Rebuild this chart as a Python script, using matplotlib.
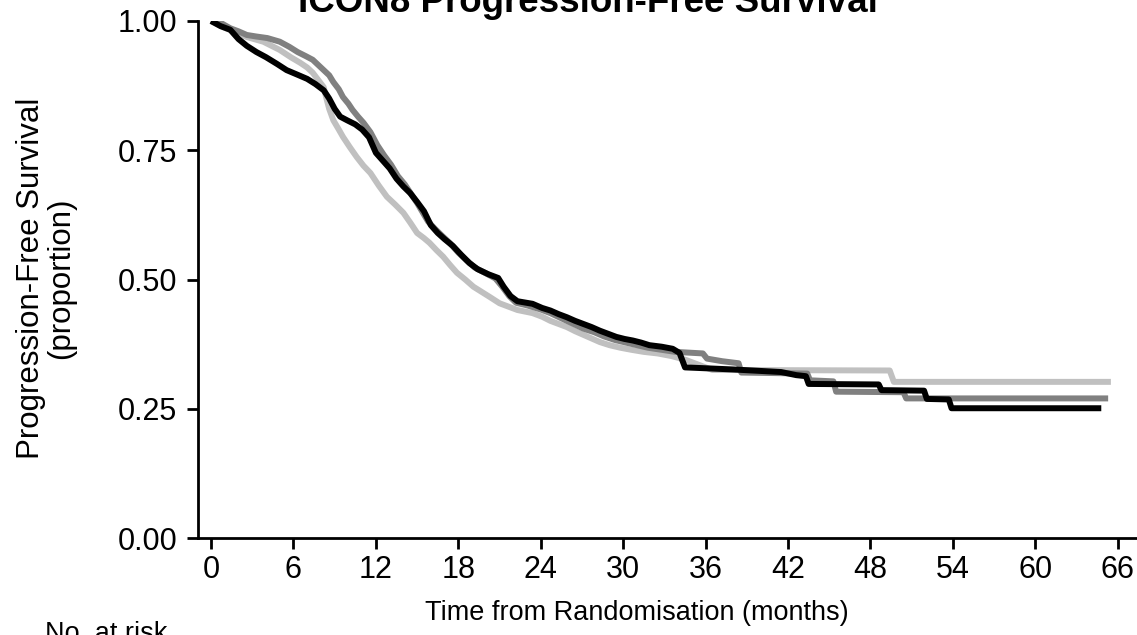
import matplotlib.pyplot as plt

plt.rcParams['font.family'] = ['Liberation Sans', 'DejaVu Sans']

# Kaplan-Meier estimates (months, proportion)
black_t = [0, 0.7, 1.4, 2.0, 2.6, 3.3, 4.0, 4.8, 5.5, 6.3, 7.0, 7.6, 8.2, 8.6, 9.0,
           9.4, 9.9, 10.5, 11.0, 11.5, 12.0, 12.5, 13.0, 13.5, 14.0, 14.5, 15.0,
           15.5, 16.0, 16.5, 17.0, 17.6, 18.2, 18.8, 19.4, 20.2, 20.9, 21.3, 21.8,
           22.3, 23.4, 24.1, 24.7, 25.3, 25.9, 26.5, 27.1, 27.7, 28.3, 28.9, 29.5,
           30.1, 30.7, 31.3, 31.9, 32.8, 33.6, 34.1, 34.5, 38.0, 41.5, 42.6, 43.3,
           43.5, 48.6, 48.8, 51.9, 52.1, 53.7, 53.9, 64.8]
black_s = [1.0, 0.99, 0.983, 0.965, 0.952, 0.94, 0.93, 0.917, 0.905, 0.896, 0.888,
           0.878, 0.866, 0.85, 0.83, 0.815, 0.808, 0.80, 0.79, 0.775, 0.745, 0.73,
           0.715, 0.695, 0.68, 0.667, 0.65, 0.632, 0.605, 0.59, 0.578, 0.565, 0.548,
           0.532, 0.52, 0.51, 0.503, 0.486, 0.468, 0.458, 0.453, 0.445, 0.44, 0.433,
           0.427, 0.42, 0.414, 0.408, 0.401, 0.395, 0.389, 0.385, 0.382, 0.378,
           0.373, 0.37, 0.366, 0.358, 0.33, 0.326, 0.321, 0.315, 0.313, 0.298,
           0.297, 0.286, 0.285, 0.269, 0.268, 0.251, 0.251]

dgrey_t = [0, 0.8, 1.4, 2.0, 2.6, 3.3, 4.1, 5.0, 5.7, 6.3, 6.9, 7.4, 7.8, 8.2, 8.6,
           8.9, 9.3, 9.6, 10.0, 10.3, 10.7, 11.1, 11.6, 12.1, 12.6, 13.1, 13.6,
           14.1, 14.5, 15.0, 15.4, 15.8, 16.3, 16.8, 17.4, 18.0, 18.6, 19.2, 20.0,
           20.7, 21.2, 21.7, 22.2, 23.0, 24.0, 24.7, 25.5, 26.3, 27.1, 27.9, 28.6,
           29.4, 30.2, 31.0, 31.8, 32.8, 33.8, 35.8, 36.1, 37.2, 38.4, 38.6, 43.4,
           43.6, 45.3, 45.5, 50.4, 50.6, 65.3]
dgrey_s = [1.0, 0.995, 0.986, 0.98, 0.973, 0.97, 0.967, 0.96, 0.95, 0.94, 0.932,
           0.925, 0.915, 0.905, 0.895, 0.882, 0.868, 0.853, 0.84, 0.828, 0.815,
           0.803, 0.785, 0.76, 0.74, 0.722, 0.70, 0.684, 0.668, 0.648, 0.63, 0.612,
           0.598, 0.585, 0.57, 0.552, 0.537, 0.523, 0.512, 0.502, 0.486, 0.468,
           0.455, 0.45, 0.442, 0.435, 0.425, 0.415, 0.405, 0.398, 0.39, 0.383,
           0.378, 0.373, 0.368, 0.364, 0.36, 0.357, 0.347, 0.342, 0.338, 0.32,
           0.318, 0.305, 0.303, 0.283, 0.282, 0.27, 0.27]

lgrey_t = [0, 0.9, 1.8, 2.6, 3.8, 5.0, 5.8, 6.5, 7.0, 7.4, 7.8, 8.2, 8.4, 8.6, 8.9,
           9.3, 9.6, 10.1, 10.6, 11.1, 11.6, 12.2, 12.8, 13.4, 14.0, 14.5, 15.0,
           15.5, 15.9, 16.4, 16.9, 17.4, 17.9, 18.5, 19.1, 19.7, 20.3, 21.0, 22.3,
           23.4, 24.1, 24.7, 25.3, 25.9, 26.5, 27.1, 27.7, 28.3, 29.0, 29.8, 30.6,
           31.5, 32.5, 33.5, 34.5, 35.5, 36.5, 49.4, 49.7, 65.5]
lgrey_s = [1.0, 0.988, 0.978, 0.969, 0.96, 0.944, 0.93, 0.919, 0.91, 0.9, 0.886,
           0.872, 0.85, 0.83, 0.808, 0.79, 0.776, 0.756, 0.737, 0.72, 0.706, 0.682,
           0.66, 0.645, 0.629, 0.61, 0.59, 0.58, 0.571, 0.557, 0.544, 0.528, 0.513,
           0.5, 0.486, 0.476, 0.466, 0.454, 0.441, 0.435, 0.428, 0.42, 0.414, 0.408,
           0.4, 0.393, 0.386, 0.379, 0.373, 0.368, 0.364, 0.36, 0.357, 0.352, 0.345,
           0.335, 0.325, 0.324, 0.302, 0.302]

x_ticks = list(range(0, 67, 6))
y_ticks = [0.0, 0.25, 0.5, 0.75, 1.0]

fig = plt.figure(figsize=(11.37, 6.35), dpi=100)
ax = fig.add_axes([198 / 1137, 1 - 538 / 635, 1 - 198 / 1137, (538 - 21) / 635])

# light grey first, black on top
ax.plot(lgrey_t, lgrey_s, color='#c0c0c0', lw=4.3, solid_capstyle='butt')
ax.plot(dgrey_t, dgrey_s, color='#808080', lw=4.3, solid_capstyle='butt')
ax.plot(black_t, black_s, color='black', lw=4.3, solid_capstyle='butt')

ax.set_xlim(-0.95, 67.4)
ax.set_ylim(0, 1)
ax.set_xticks(x_ticks)
ax.set_yticks(y_ticks)
ax.set_yticklabels([f'{v:.2f}' for v in y_ticks])
ax.tick_params(direction='out', length=8, width=2, labelsize=22, colors='black')
ax.tick_params(axis='x', pad=4)
ax.tick_params(axis='y', pad=7)

for s in ['top', 'right']:
    ax.spines[s].set_visible(False)
for s in ['left', 'bottom']:
    ax.spines[s].set_linewidth(2)

fig.text(588 / 1137, 1 - 12 / 635, 'ICON8 Progression-Free Survival', ha='center',
         va='baseline', fontsize=26.5, fontweight='bold')
fig.text(637 / 1137, 1 - 620 / 635, 'Time from Randomisation (months)', ha='center',
         va='baseline', fontsize=19.5)
fig.text(46 / 1137, 1 - 278 / 635, 'Progression-Free Survival\n(proportion)',
         rotation=90, ha='center', va='center', multialignment='center',
         fontsize=22.5, linespacing=1.0)
fig.text(45 / 1137, -6 / 635, 'No. at risk', ha='left', va='baseline', fontsize=19.5)

fig.savefig('out.png', dpi=100)
